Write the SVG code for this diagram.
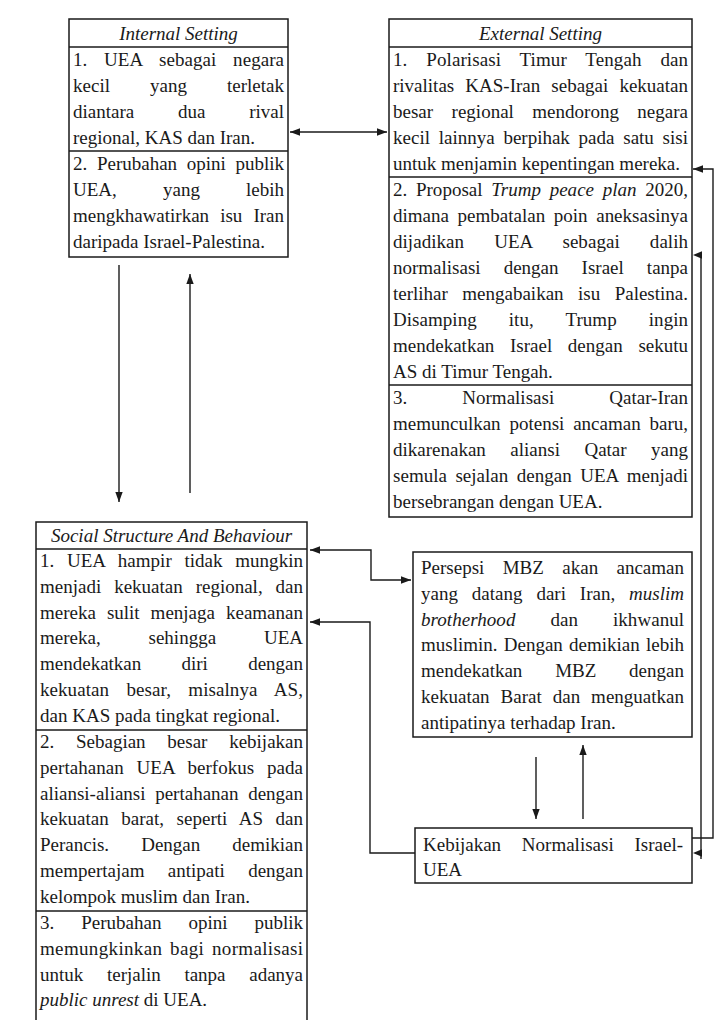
<svg xmlns="http://www.w3.org/2000/svg" width="718" height="1020" viewBox="0 0 718 1020">
<style>
.bx{fill:#fff;stroke:#1a1a1a;stroke-width:1.5}
.dv{stroke:#1a1a1a;stroke-width:1.4}
text{font-family:"Liberation Serif","Times New Roman",serif;font-size:19px;fill:#1a1a1a}
.ti{font-style:italic}
.i{font-style:italic}
.c{fill:none;stroke:#1a1a1a;stroke-width:1.4}
.ah{fill:#1a1a1a}
</style>
<defs>
<marker id="arr" markerUnits="userSpaceOnUse" markerWidth="10" markerHeight="8" refX="10" refY="4" orient="auto-start-reverse">
<path d="M0,0.3 L10,4 L0,7.7 z" fill="#1a1a1a"/>
</marker>
</defs>
<rect width="718" height="1020" fill="#fff"/>

<g id="internal">
<rect class="bx" x="69" y="19" width="219" height="238"/>
<line class="dv" x1="69" y1="47" x2="288" y2="47"/>
<line class="dv" x1="69" y1="151" x2="288" y2="151"/>
<text class="ti" x="178.5" y="40" text-anchor="middle">Internal Setting</text>
<text x="73" y="66" textLength="211" lengthAdjust="spacing" word-spacing="11.9">1. UEA sebagai negara</text>
<text x="73" y="92" textLength="211" lengthAdjust="spacing" word-spacing="35.3">kecil yang terletak</text>
<text x="73" y="118" textLength="211" lengthAdjust="spacing" word-spacing="39">diantara dua rival</text>
<text x="73" y="144">regional, KAS dan Iran.</text>
<text x="73" y="170" textLength="211" lengthAdjust="spacing" word-spacing="4.9">2. Perubahan opini publik</text>
<text x="73" y="196" textLength="211" lengthAdjust="spacing" word-spacing="41.4">UEA, yang lebih</text>
<text x="73" y="222" textLength="211" lengthAdjust="spacing" word-spacing="6.3">mengkhawatirkan isu Iran</text>
<text x="73" y="248">daripada Israel-Palestina.</text>
</g>

<g id="external">
<rect class="bx" x="389" y="19" width="303" height="498"/>
<line class="dv" x1="389" y1="47" x2="692" y2="47"/>
<line class="dv" x1="389" y1="177" x2="692" y2="177"/>
<line class="dv" x1="389" y1="385" x2="692" y2="385"/>
<text class="ti" x="540.5" y="40" text-anchor="middle">External Setting</text>
<text x="393" y="66" textLength="295" lengthAdjust="spacing" word-spacing="14">1. Polarisasi Timur Tengah dan</text>
<text x="393" y="92" textLength="295" lengthAdjust="spacing" word-spacing="6.3">rivalitas KAS-Iran sebagai kekuatan</text>
<text x="393" y="118" textLength="295" lengthAdjust="spacing" word-spacing="13.7">besar regional mendorong negara</text>
<text x="393" y="144" textLength="295" lengthAdjust="spacing" word-spacing="4">kecil lainnya berpihak pada satu sisi</text>
<text x="393" y="170">untuk menjamin kepentingan mereka.</text>
<text x="393" y="196" textLength="295" lengthAdjust="spacing" word-spacing="3.8">2. Proposal <tspan class="i">Trump peace plan</tspan> 2020,</text>
<text x="393" y="222" textLength="295" lengthAdjust="spacing" word-spacing="3.9">dimana pembatalan poin aneksasinya</text>
<text x="393" y="248" textLength="295" lengthAdjust="spacing" word-spacing="25.3">dijadikan UEA sebagai dalih</text>
<text x="393" y="274" textLength="295" lengthAdjust="spacing" word-spacing="18.3">normalisasi dengan Israel tanpa</text>
<text x="393" y="300" textLength="295" lengthAdjust="spacing" word-spacing="9.7">terlihar mengabaikan isu Palestina.</text>
<text x="393" y="326" textLength="295" lengthAdjust="spacing" word-spacing="27.3">Disamping itu, Trump ingin</text>
<text x="393" y="352" textLength="295" lengthAdjust="spacing" word-spacing="10.9">mendekatkan Israel dengan sekutu</text>
<text x="393" y="378">AS di Timur Tengah.</text>
<text x="393" y="404" textLength="295" lengthAdjust="spacing" word-spacing="50.3">3. Normalisasi Qatar-Iran</text>
<text x="393" y="430" textLength="295" lengthAdjust="spacing" word-spacing="4.1">memunculkan potensi ancaman baru,</text>
<text x="393" y="456" textLength="295" lengthAdjust="spacing" word-spacing="19.7">dikarenakan aliansi Qatar yang</text>
<text x="393" y="482" textLength="295" lengthAdjust="spacing" word-spacing="3.6">semula sejalan dengan UEA menjadi</text>
<text x="393" y="508">bersebrangan dengan UEA.</text>
</g>

<g id="social">
<rect class="bx" x="36" y="522" width="271" height="520"/>
<line class="dv" x1="36" y1="549" x2="307" y2="549"/>
<line class="dv" x1="36" y1="730" x2="307" y2="730"/>
<line class="dv" x1="36" y1="911" x2="307" y2="911"/>
<text class="ti" x="171.5" y="542" text-anchor="middle">Social Structure And Behaviour</text>
<text x="40" y="567" textLength="263" lengthAdjust="spacing" word-spacing="7.8">1. UEA hampir tidak mungkin</text>
<text x="40" y="592.8" textLength="263" lengthAdjust="spacing" word-spacing="8.2">menjadi kekuatan regional, dan</text>
<text x="40" y="618.6" textLength="263" lengthAdjust="spacing" word-spacing="6.2">mereka sulit menjaga keamanan</text>
<text x="40" y="644.4" textLength="263" lengthAdjust="spacing" word-spacing="43.1">mereka, sehingga UEA</text>
<text x="40" y="670.2" textLength="263" lengthAdjust="spacing" word-spacing="35.5">mendekatkan diri dengan</text>
<text x="40" y="696" textLength="263" lengthAdjust="spacing" word-spacing="12.6">kekuatan besar, misalnya AS,</text>
<text x="40" y="721.8">dan KAS pada tingkat regional.</text>
<text x="40" y="748" textLength="263" lengthAdjust="spacing" word-spacing="17">2. Sebagian besar kebijakan</text>
<text x="40" y="773.8" textLength="263" lengthAdjust="spacing" word-spacing="8">pertahanan UEA berfokus pada</text>
<text x="40" y="799.6" textLength="263" lengthAdjust="spacing" word-spacing="4.9">aliansi-aliansi pertahanan dengan</text>
<text x="40" y="825.4" textLength="263" lengthAdjust="spacing" word-spacing="7.6">kekuatan barat, seperti AS dan</text>
<text x="40" y="851.2" textLength="263" lengthAdjust="spacing" word-spacing="27.3">Perancis. Dengan demikian</text>
<text x="40" y="877" textLength="263" lengthAdjust="spacing" word-spacing="18.6">mempertajam antipati dengan</text>
<text x="40" y="902.8">kelompok muslim dan Iran.</text>
<text x="40" y="929" textLength="263" lengthAdjust="spacing" word-spacing="22.2">3. Perubahan opini publik</text>
<text x="40" y="954.8" textLength="263" lengthAdjust="spacing" word-spacing="2.7">memungkinkan bagi normalisasi</text>
<text x="40" y="980.6" textLength="263" lengthAdjust="spacing" word-spacing="18.9">untuk terjalin tanpa adanya</text>
<text x="40" y="1006.4"><tspan class="i">public unrest</tspan> di UEA.</text>
</g>

<g id="mbz">
<rect class="bx" x="413" y="552" width="279" height="185"/>
<text x="421" y="574" textLength="263" lengthAdjust="spacing" word-spacing="13.6">Persepsi MBZ akan ancaman</text>
<text x="421" y="599.8" textLength="263" lengthAdjust="spacing" word-spacing="9.2">yang datang dari Iran, <tspan class="i">muslim</tspan></text>
<text x="421" y="625.6" textLength="263" lengthAdjust="spacing" word-spacing="30.2"><tspan class="i">brotherhood</tspan> dan ikhwanul</text>
<text x="421" y="651.4" textLength="263" lengthAdjust="spacing" word-spacing="1.5">muslimin. Dengan demikian lebih</text>
<text x="421" y="677.2" textLength="263" lengthAdjust="spacing" word-spacing="28">mendekatkan MBZ dengan</text>
<text x="421" y="703" textLength="263" lengthAdjust="spacing" word-spacing="6.2">kekuatan Barat dan menguatkan</text>
<text x="421" y="728.8">antipatinya terhadap Iran.</text>
</g>

<g id="kebijakan">
<rect class="bx" x="415" y="828" width="277" height="55"/>
<text x="423" y="851" textLength="260" lengthAdjust="spacing" word-spacing="16">Kebijakan Normalisasi Israel-</text>
<text x="423" y="876">UEA</text>
</g>

<g id="connectors">
<path class="c" d="M290,132 H387" marker-start="url(#arr)" marker-end="url(#arr)"/>
<path class="c" d="M119,265 V502" marker-end="url(#arr)"/>
<path class="c" d="M190,493 V274" marker-end="url(#arr)"/>
<path class="c" d="M310,550 H371 V580 H411" marker-start="url(#arr)" marker-end="url(#arr)"/>
<path class="c" d="M415,853 H370 V622 H310" marker-end="url(#arr)"/>
<path class="c" d="M536,757 V819" marker-end="url(#arr)"/>
<path class="c" d="M583,819 V745" marker-end="url(#arr)"/>
<path class="c" d="M692,838 H713 V169 H693" marker-end="url(#arr)"/>
<path class="c" d="M701,255 V859"/>
<polygon class="ah" points="693,255 702,251.3 702,258.7"/>
<polygon class="ah" points="693,853 702,849.3 702,856.7"/>
</g>
</svg>
